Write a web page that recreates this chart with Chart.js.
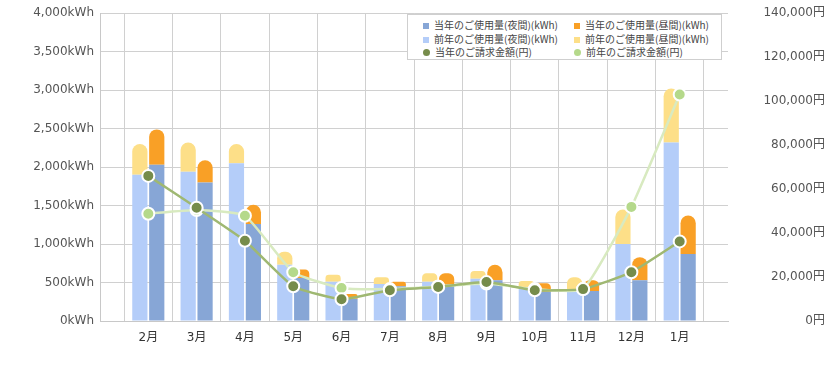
<!DOCTYPE html>
<html>
<head>
<meta charset="utf-8">
<script src="https://cdn.jsdelivr.net/npm/chart.js@4/dist/chart.umd.min.js"></script>
<style>
  html, body { margin: 0; padding: 0; background: #fff; }
  #wrap { position: relative; width: 838px; height: 371px; }
  #legend {
    position: absolute; left: 407px; top: 14px; width: 315px; height: 46px;
    background: #fff; border: 1px solid #cfcfcf; box-sizing: border-box;
    font-family: 'Noto Sans CJK JP', 'DejaVu Sans', sans-serif; font-size: 10px; color: #444;
  }
  #legend .item { position: absolute; white-space: nowrap; line-height: 13px; }
  #legend .mk { display: inline-block; width: 6px; height: 6px; margin-right: 5px; vertical-align: 0px; }
  #legend .mk.round { border-radius: 50%; width: 7px; height: 7px; }
</style>
</head>
<body>
<div id="wrap">
  <canvas id="c"></canvas>
  <div id="legend"></div>
</div>
<script>
const months = ['2月','3月','4月','5月','6月','7月','8月','9月','10月','11月','12月','1月'];
const curNight  = [2030,1800,1260,560,290,450,470,530,380,390,530,870];
const curDay    = [460,290,250,110,60,60,150,200,110,140,300,500];
const prevNight = [1900,1940,2050,730,510,480,510,550,440,410,1000,2320];
const prevDay   = [400,380,250,170,90,90,110,100,80,160,450,700];
const curBill   = [66000,51500,36500,15800,9900,14000,15500,17700,14000,14500,22200,36200];
const prevBill  = [48800,50500,47900,22200,15000,14500,15700,17000,14500,14500,51900,103000];
const kwhTicks = { max: 4000, step: 500, unit: 'kWh' };
const yenTicks = { max: 140000, step: 20000, unit: '円' };

const pad = a => [null, ...a, null];
const labels = ['', ...months, ''];
const fmt = v => v.toLocaleString('en-US');
const topR = { topLeft: 8, topRight: 8, bottomLeft: 0, bottomRight: 0 };

Chart.defaults.font.family = "'DejaVu Sans','Noto Sans CJK JP',sans-serif";
Chart.defaults.font.size = 12;

const chart = new Chart(document.getElementById('c'), {
  data: {
    labels,
    datasets: [
      { type: 'bar', label: '当年のご使用量(夜間)(kWh)', data: pad(curNight), stack: 'cur', order: 2,
        backgroundColor: '#87a6d6', yAxisID: 'y', categoryPercentage: 0.7, barPercentage: 0.9 },
      { type: 'bar', label: '当年のご使用量(昼間)(kWh)', data: pad(curDay), stack: 'cur', order: 2,
        backgroundColor: '#f9a026', borderRadius: topR, borderSkipped: false, yAxisID: 'y', categoryPercentage: 0.7, barPercentage: 0.9 },
      { type: 'bar', label: '前年のご使用量(夜間)(kWh)', data: pad(prevNight), stack: 'prev', order: 1,
        backgroundColor: '#b4cdf9', yAxisID: 'y', categoryPercentage: 0.7, barPercentage: 0.9 },
      { type: 'bar', label: '前年のご使用量(昼間)(kWh)', data: pad(prevDay), stack: 'prev', order: 1,
        backgroundColor: '#fddf88', borderRadius: topR, borderSkipped: false, yAxisID: 'y', categoryPercentage: 0.7, barPercentage: 0.9 },
      { type: 'line', label: '当年のご請求金額(円)', data: pad(curBill), order: 0, yAxisID: 'y1',
        borderColor: '#9fb872', borderWidth: 2.5, tension: 0.15,
        pointBackgroundColor: '#768c4b', pointBorderColor: '#ffffff', pointBorderWidth: 2, pointRadius: 6 },
      { type: 'line', label: '前年のご請求金額(円)', data: pad(prevBill), order: 0.5, yAxisID: 'y1',
        borderColor: '#d8eac0', borderWidth: 2.5, tension: 0.15,
        pointBackgroundColor: '#b5d98b', pointBorderColor: '#ffffff', pointBorderWidth: 2, pointRadius: 6 }
    ]
  },
  options: {
    responsive: true,
    maintainAspectRatio: false,
    animation: false,
    layout: { padding: { top: 10, right: 13, left: 0, bottom: 0 } },
    plugins: { legend: { display: false }, tooltip: { enabled: false } },
    scales: {
      x: {
        offset: false,
        stacked: true,
        grid: { color: '#d0d0d0', drawTicks: false },
        border: { color: '#c8c8c8' },
        ticks: { color: '#333', padding: 10, autoSkip: false, maxRotation: 0, font: { size: 12 } },
        afterFit: s => { s.height = 50; }
      },
      y: {
        position: 'left', stacked: true, min: 0, max: kwhTicks.max,
        grid: { color: '#d0d0d0', drawTicks: false },
        border: { color: '#c8c8c8' },
        ticks: { stepSize: kwhTicks.step, color: '#555', padding: 6, callback: v => fmt(v) + kwhTicks.unit },
        afterFit: s => { s.width = 100; }
      },
      y1: {
        position: 'right', min: 0, max: yenTicks.max,
        grid: { display: false, drawTicks: false },
        border: { display: false },
        ticks: { stepSize: yenTicks.step, color: '#555', crossAlign: 'far', callback: v => fmt(v) + yenTicks.unit },
        afterFit: s => { s.width = 97; }
      }
    }
  }
});

// HTML legend built from the chart's datasets
const lg = document.getElementById('legend');
chart.data.datasets.forEach((ds, i) => {
  const col = i % 2, row = Math.floor(i / 2);
  const el = document.createElement('div');
  el.className = 'item';
  el.style.left = (col === 0 ? 15 : 166) + 'px';
  el.style.top = (3 + row * 13.5) + 'px';
  const mk = document.createElement('span');
  mk.className = 'mk' + (ds.type === 'line' ? ' round' : '');
  mk.style.background = ds.type === 'line' ? ds.pointBackgroundColor : ds.backgroundColor;
  el.appendChild(mk);
  el.appendChild(document.createTextNode(ds.label));
  lg.appendChild(el);
});
</script>
</body>
</html>
